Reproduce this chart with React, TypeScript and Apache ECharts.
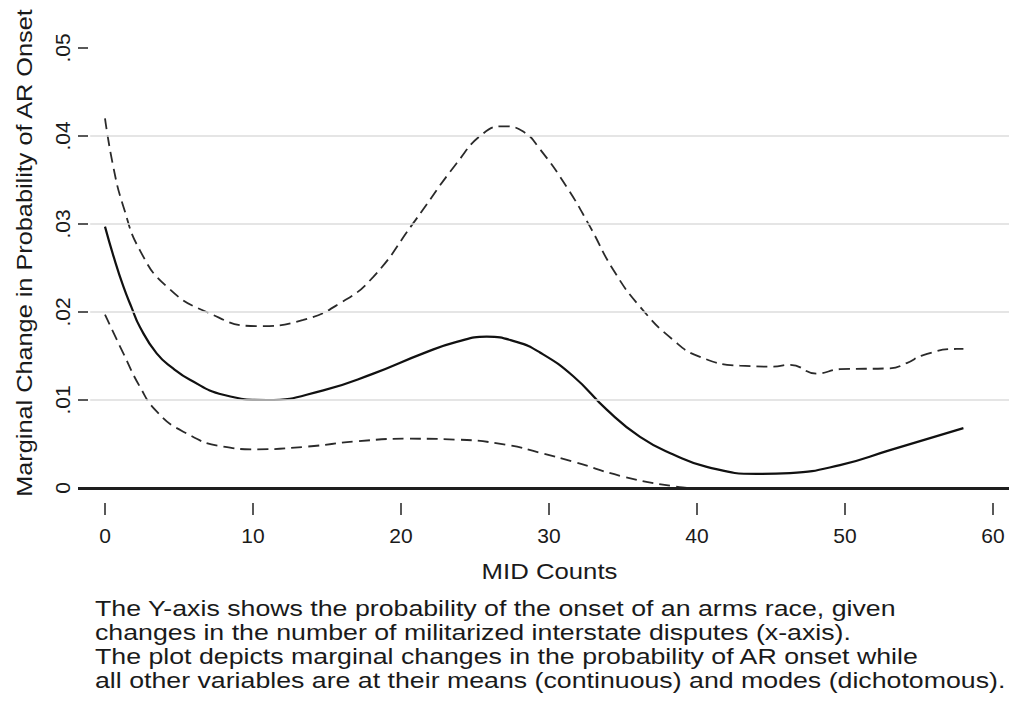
import React, { useEffect, useRef } from "react";
import * as echarts from "echarts";

// ---- data ----
const xTicks = [0, 10, 20, 30, 40, 50, 60];
const gridValues = [0.01, 0.02, 0.03, 0.04];

const solidX = [0, 0.6, 1.24, 1.8, 2.36, 3.49, 4.6, 5.74, 7.99, 10.93, 14.75, 18.13, 21.5, 23.76, 25.79, 27.8, 29.39, 31.64, 33.9, 36.15, 38.4, 40.66, 44.03, 46.28, 49.66, 53.04, 58];
const solidY = [0.0297, 0.0262, 0.0229, 0.0205, 0.0183, 0.0153, 0.0136, 0.0123, 0.0106, 0.01, 0.0111, 0.013, 0.0153, 0.0166, 0.0172, 0.0166, 0.0154, 0.0127, 0.0089, 0.0058, 0.0038, 0.0024, 0.0016, 0.0017, 0.0026, 0.0043, 0.0068];

const upperX = [0, 0.56, 1.24, 2.36, 4.17, 6.87, 10.25, 13.4, 15.88, 18.13, 20.83, 23.76, 25.56, 26.91, 28.26, 29.39, 31.2, 32.77, 34.34, 36.15, 38.4, 40.2, 42.9, 45.16, 46.28, 48.09, 49.66, 53.04, 54.17, 55.29, 57.55, 58];
const upperY = [0.042, 0.0365, 0.032, 0.027, 0.0229, 0.02, 0.0184, 0.0191, 0.021, 0.024, 0.0301, 0.0369, 0.0403, 0.0411, 0.0405, 0.0385, 0.0342, 0.0297, 0.0248, 0.0206, 0.0168, 0.0149, 0.0139, 0.0138, 0.014, 0.013, 0.0135, 0.0136, 0.0142, 0.0151, 0.0158, 0.0158];

const lowerX = [0, 1.24, 2.36, 3.49, 5.29, 7.99, 10.25, 13.63, 17.0, 20.4, 23.76, 27.14, 29.39, 31.64, 35.0, 38.4, 40, 58];
const lowerY = [0.0197, 0.0153, 0.0115, 0.0087, 0.0064, 0.0047, 0.0044, 0.0047, 0.0053, 0.0056, 0.0055, 0.0049, 0.004, 0.003, 0.0013, 0.0002, 0, 0];

const yTitle = "Marginal Change in Probability of AR Onset";
const xTitle = "MID Counts";
const noteLines = [
  "The Y-axis shows the probability of the onset of an arms race, given",
  "changes in the number of militarized interstate disputes (x-axis).",
  "The plot depicts marginal changes in the probability of AR onset while",
  "all other variables are at their means (continuous) and modes (dichotomous).",
];

const zip = (xs: number[], ys: number[]) => xs.map((x, i) => [x, ys[i]]);

const FONT = "'Liberation Sans', Arial, Helvetica, sans-serif";
const X_MIN = -1.824;
const X_MAX = 61.08;
const GRID_START = -1.0;

export default function App() {
  const ref = useRef<HTMLDivElement>(null);
  useEffect(() => {
    if (!ref.current) return;
    const chart = echarts.init(ref.current, undefined, { renderer: "svg" });
    const option: any = {
      animation: false,
      backgroundColor: "#ffffff",
      grid: { left: 78, right: 0, top: 48, height: 440 },
      xAxis: {
        type: "value",
        min: X_MIN,
        max: X_MAX,
        offset: 15,
        axisLine: { show: false, onZero: false },
        splitLine: { show: false },
        axisTick: { show: true, length: 12, customValues: xTicks, lineStyle: { color: "#222", width: 1.5 } },
        axisLabel: { customValues: xTicks, margin: 22, fontSize: 21, color: "#1a1a1a", fontFamily: FONT },
      },
      yAxis: {
        type: "value",
        min: 0,
        max: 0.05,
        interval: 0.01,
        axisLine: { show: false, onZero: false },
        splitLine: { show: false },
        axisTick: { show: true, inside: true, length: 10, lineStyle: { color: "#222", width: 1.5 } },
        axisLabel: {
          rotate: 90,
          margin: 5,
          fontSize: 21,
          color: "#1a1a1a",
          fontFamily: FONT,
          formatter: (v: number) => (v === 0 ? "0" : v.toFixed(2).replace(/^0/, "")),
        },
      },
      graphic: [
        {
          type: "text",
          x: 24.5,
          y: 253,
          rotation: Math.PI / 2,
          scaleX: 1.15,
          style: { text: yTitle, font: `22px ${FONT}`, fill: "#1a1a1a", textAlign: "center", textVerticalAlign: "middle" },
        },
        {
          type: "text",
          x: 549.5,
          y: 571,
          scaleX: 1.17,
          style: { text: xTitle, font: `22px ${FONT}`, fill: "#1a1a1a", textAlign: "center", textVerticalAlign: "middle" },
        },
        {
          type: "text",
          x: 95,
          y: 596,
          scaleX: 1.215,
          style: { text: noteLines.join("\n"), font: `22px ${FONT}`, lineHeight: 24, fill: "#1a1a1a", textAlign: "left", textVerticalAlign: "top" },
        },
      ],
      series: [
        {
          type: "line",
          name: "grid",
          data: [],
          silent: true,
          markLine: {
            silent: true,
            symbol: "none",
            label: { show: false },
            animation: false,
            data: gridValues.map((v) => [
              { coord: [GRID_START, v], lineStyle: { color: "#dcdcdc", width: 1.5, type: "solid" } },
              { coord: [X_MAX, v] },
            ]),
          },
          z: 1,
        },
        {
          type: "line",
          name: "lower",
          data: zip(lowerX, lowerY),
          smooth: true,
          showSymbol: false,
          lineStyle: { color: "#2a2a2a", width: 1.8, type: [11, 6] },
          z: 2,
        },
        {
          type: "line",
          name: "upper",
          data: zip(upperX, upperY),
          smooth: true,
          showSymbol: false,
          lineStyle: { color: "#2a2a2a", width: 1.8, type: [11, 6] },
          z: 2,
        },
        {
          type: "line",
          name: "estimate",
          data: zip(solidX, solidY),
          smooth: true,
          showSymbol: false,
          lineStyle: { color: "#111", width: 2.2, type: "solid" },
          z: 3,
        },
        {
          type: "line",
          name: "zero",
          data: [],
          silent: true,
          markLine: {
            silent: true,
            symbol: "none",
            label: { show: false },
            animation: false,
            data: [[{ coord: [X_MIN, 0], lineStyle: { color: "#1e1e1e", width: 3, type: "solid" } }, { coord: [X_MAX, 0] }]],
          },
          z: 4,
        },
      ],
    };
    chart.setOption(option);
    return () => chart.dispose();
  }, []);
  return <div ref={ref} style={{ position: "fixed", left: 0, top: 0, width: 1009, height: 702 }} />;
}
